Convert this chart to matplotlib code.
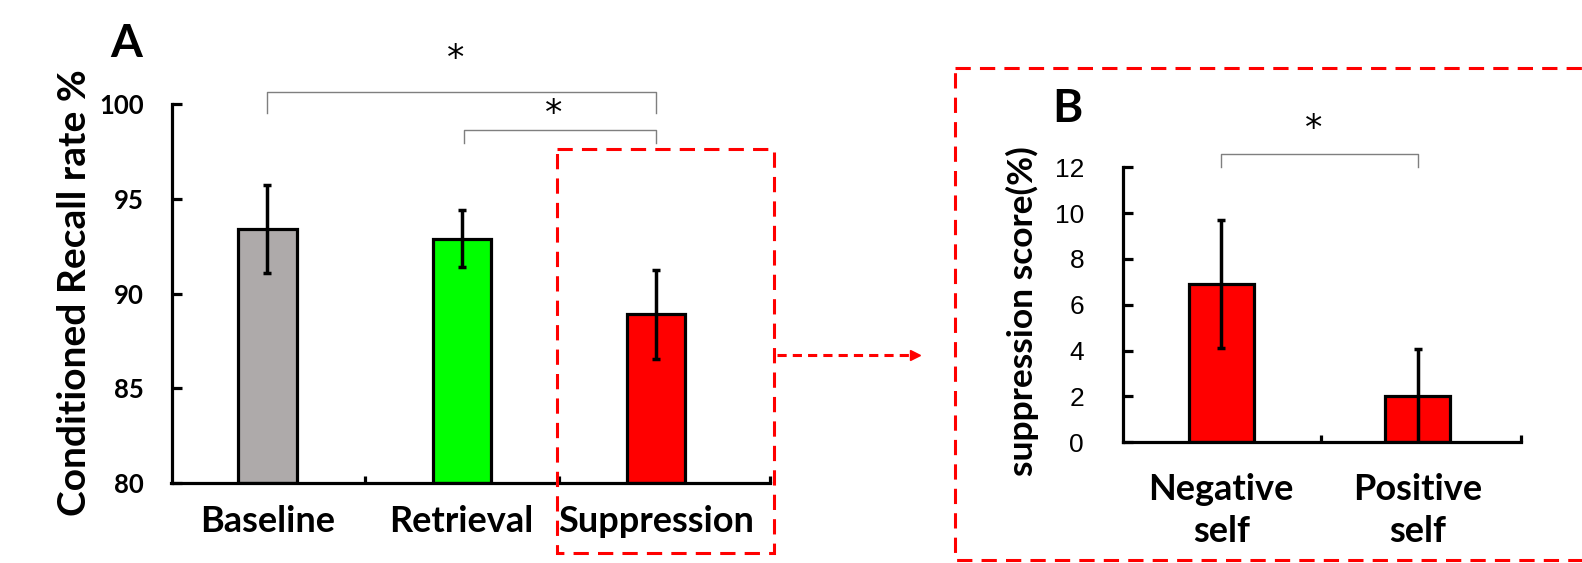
import matplotlib
matplotlib.use("Agg")
import matplotlib.pyplot as plt
from matplotlib.patches import Rectangle

# panel A data
conds_a = ["Baseline", "Retrieval", "Suppression"]
recall = [93.4, 92.9, 88.9]
recall_err = [2.3, 1.5, 2.35]
colors_a = ["#AEAAAA", "#00FF00", "#FF0000"]

# panel B data
conds_b = ["Negative\nself", "Positive\nself"]
supp_score = [6.9, 2.0]
supp_err = [2.8, 2.05]

W, H = 1582, 563
BOLD = "Lato"
RED = "#FF0000"


def px_axes(fig, left, right, top, bottom):
    """axes rectangle given in pixel coordinates (origin top-left)."""
    return fig.add_axes([left / W, 1 - bottom / H, (right - left) / W, (bottom - top) / H])


def style_axes(ax):
    for s in ("top", "right"):
        ax.spines[s].set_visible(False)
    for s in ("left", "bottom"):
        ax.spines[s].set_linewidth(2.3)
    ax.tick_params(axis="y", direction="in", length=7, width=2.3)
    ax.tick_params(axis="x", which="major", length=0)
    ax.tick_params(axis="x", which="minor", direction="in", length=5, width=2.3)


def bracket(ax, x0, x1, y_top, y_low, star_y):
    ax.plot([x0, x0, x1, x1], [y_low, y_top, y_top, y_low], color="#7F7F7F",
            lw=1.0, clip_on=False)
    ax.text((x0 + x1) / 2 - 0.03, star_y, "*", ha="center", va="center",
            fontsize=25, family="DejaVu Sans", clip_on=False)


fig = plt.figure(figsize=(W / 100, H / 100), dpi=100)

# ---- panel A
ax_a = px_axes(fig, 171.5, 770, 104, 483)
x_a = list(range(len(conds_a)))
ax_a.bar(x_a, [v - 80 for v in recall], bottom=80, width=0.30, color=colors_a,
         edgecolor="black", linewidth=2.3, zorder=2)
ax_a.errorbar(x_a, recall, yerr=recall_err, fmt="none", ecolor="black",
              elinewidth=2.5, capsize=3, capthick=2.5, zorder=3)
ax_a.set_ylim(80, 100)
ax_a.set_xlim(-0.494, 2.587)
ax_a.set_yticks([80, 85, 90, 95, 100])
ax_a.set_xticks(x_a)
ax_a.set_xticklabels(conds_a, fontsize=26, fontweight="bold", family=BOLD)
ax_a.set_xticks([0.5, 1.5, 2.587], minor=True)
style_axes(ax_a)
ax_a.tick_params(axis="x", which="major", pad=16)
for lab in ax_a.get_yticklabels():
    lab.set_fontsize(18.5)
    lab.set_fontweight("bold")
    lab.set_family(BOLD)
ax_a.tick_params(axis="y", pad=20)
bracket(ax_a, 0, 2, 100.63, 99.53, 102.4)
bracket(ax_a, 1.01, 2, 98.63, 97.94, 99.45)

# ---- panel B
ax_b = px_axes(fig, 1123, 1520.5, 167.5, 442)
x_b = list(range(len(conds_b)))
ax_b.bar(x_b, supp_score, width=0.33, color=RED, edgecolor="black",
         linewidth=2.3, zorder=2)
ax_b.errorbar(x_b, supp_score, yerr=supp_err, fmt="none", ecolor="black",
              elinewidth=2.5, capsize=3, capthick=2.5, zorder=3)
ax_b.set_ylim(0, 12)
ax_b.set_xlim(-0.5, 1.524)
ax_b.set_yticks(range(0, 13, 2))
ax_b.set_xticks(x_b)
ax_b.set_xticklabels(conds_b, fontsize=26, fontweight="bold", family=BOLD,
                     linespacing=1.35)
ax_b.set_xticks([0.51, 1.524], minor=True)
style_axes(ax_b)
ax_b.tick_params(axis="x", which="major", pad=22)
for lab in ax_b.get_yticklabels():
    lab.set_fontsize(19)
    lab.set_family("Liberation Sans")
ax_b.tick_params(axis="y", pad=28)
bracket(ax_b, 0, 1, 12.57, 12.0, 13.68)

# ---- overlay: panel letters, axis titles, dashed boxes and arrow
ov = fig.add_axes([0, 0, 1, 1], zorder=5)
ov.set_xlim(0, W)
ov.set_ylim(H, 0)
ov.axis("off")
ov.patch.set_alpha(0)

ov.text(126, 44, "A", fontsize=33, fontweight="bold", family=BOLD,
        ha="center", va="center")
ov.text(1067, 109, "B", fontsize=33, fontweight="bold", family=BOLD,
        ha="center", va="center")
ov.text(75, 293, "Conditioned Recall rate %", rotation=90, fontsize=28,
        fontweight="bold", family=BOLD, ha="center", va="center")
ov.text(1022, 311, "suppression score(%)", rotation=90, fontsize=25.5,
        fontweight="bold", family=BOLD, ha="center", va="center")

dash = (0, (5, 3))
ov.add_patch(Rectangle((557, 149), 217, 404, fill=False, edgecolor=RED,
                       linewidth=2.2, linestyle=dash))
ov.add_patch(Rectangle((954.5, 67.6), 700, 492.5, fill=False, edgecolor=RED,
                       linewidth=2.2, linestyle=dash, clip_on=False))
ov.plot([777, 912], [355, 355], color=RED, lw=2.2, linestyle=(0, (3, 2)))
ov.plot([915], [355], marker=">", color=RED, markersize=7)

fig.savefig("out.png", dpi=100)
